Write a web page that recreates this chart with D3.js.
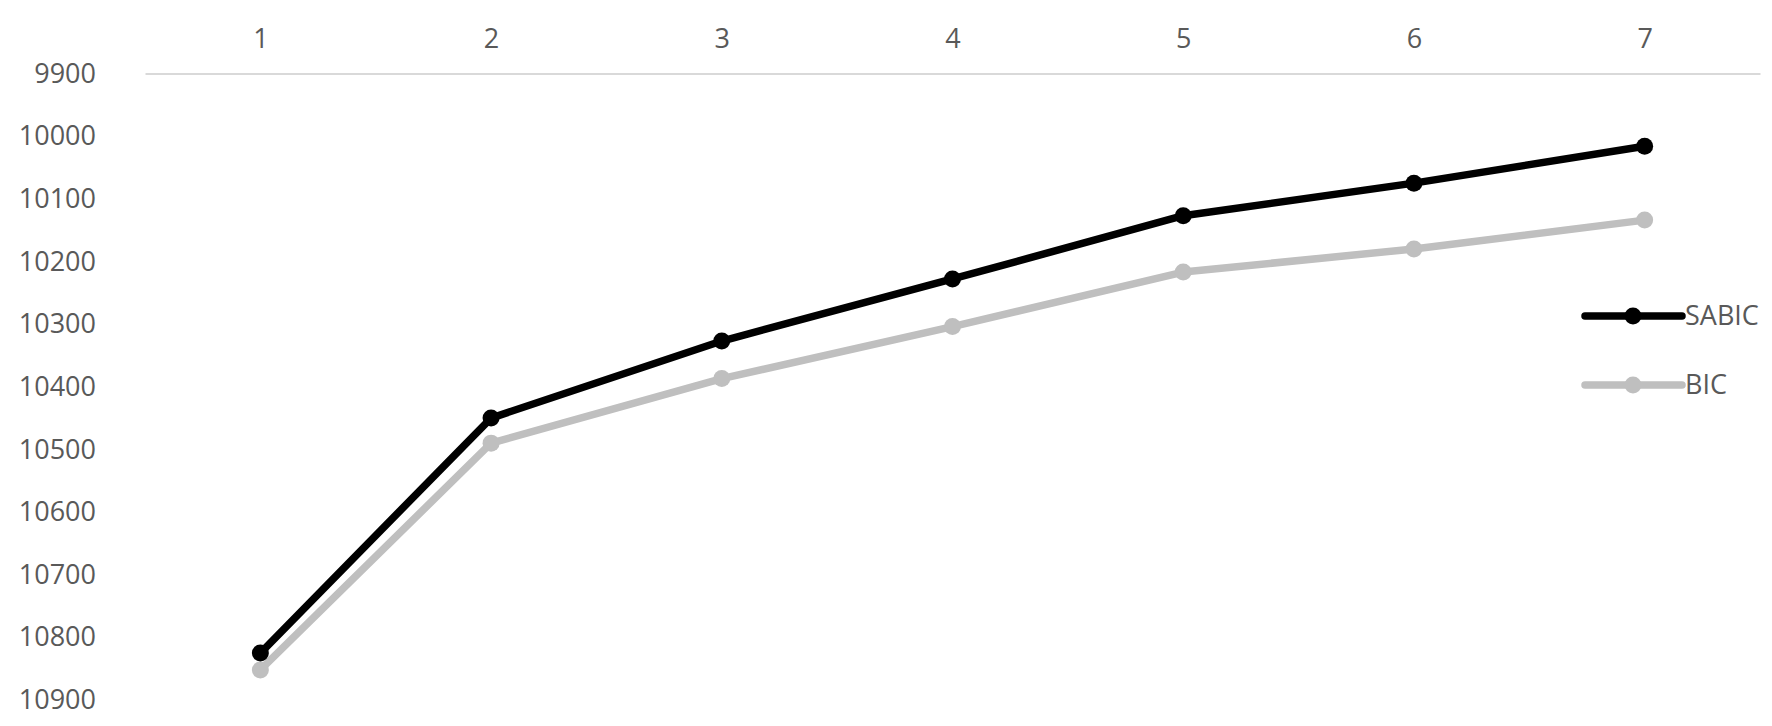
<!DOCTYPE html>
<html>
<head>
<meta charset="utf-8">
<script src="https://cdn.jsdelivr.net/npm/d3@7"></script>
<style>
  body { margin: 0; background: #fff; }
  text { font-family: "Open Sans", sans-serif; fill: #595959; }
</style>
</head>
<body>
<svg width="1772" height="726"></svg>
<script>
// categories (number of classes)
const classes = [1, 2, 3, 4, 5, 6, 7]
// values
const sabic = [10825, 10450, 10327, 10228, 10127, 10075, 10016]
const bic = [10852, 10490, 10387, 10304, 10217, 10180, 10134]
const yTicks = [9900, 10000, 10100, 10200, 10300, 10400, 10500, 10600, 10700, 10800, 10900]

const series = [
    { name: 'SABIC', values: sabic, color: '#000000' },
    { name: 'BIC', values: bic, color: '#bfbfbf' }
]

const svg = d3.select('svg')

const xScale = d3.scalePoint()
    .domain(classes)
    .range([145, 1760])
    .padding(0.5)

// reversed value axis: small numbers on top
const yScale = d3.scaleLinear()
    .domain([9900, 10900])
    .range([73.5, 700])

// category axis along the top
const xAxis = svg.append('g')
    .attr('transform', `translate(0, ${yScale(9900)})`)
    .call(d3.axisTop(xScale).tickSize(0).tickPadding(26))
xAxis.select('.domain').attr('stroke', '#d9d9d9').attr('stroke-width', 2)
xAxis.selectAll('text')
    .style('font-size', '27px')
    .style('font-family', '"Open Sans", sans-serif')
    .attr('fill', '#595959')

const yAxis = svg.append('g')
    .attr('transform', 'translate(96, 0)')
    .call(d3.axisLeft(yScale).tickValues(yTicks).tickSize(0).tickPadding(0).tickFormat(d3.format('d')))
yAxis.select('.domain').remove()
yAxis.selectAll('text')
    .style('font-size', '27px')
    .style('font-family', '"Open Sans", sans-serif')
    .attr('fill', '#595959')

const line = d3.line()
    .x((d, i) => xScale(classes[i]))
    .y(d => yScale(d))

// draw grey first so black sits on top
series.slice().reverse().forEach(s => {
    svg.append('path')
        .datum(s.values)
        .attr('fill', 'none')
        .attr('stroke', s.color)
        .attr('stroke-width', 7.5)
        .attr('stroke-linejoin', 'round')
        .attr('d', line)

    svg.selectAll(null)
        .data(s.values)
        .enter()
        .append('circle')
        .attr('cx', (d, i) => xScale(classes[i]))
        .attr('cy', d => yScale(d))
        .attr('r', 8.5)
        .attr('fill', s.color)
})

// legend
const legend = svg.selectAll('.legend')
    .data(series)
    .enter().append('g')
    .attr('class', 'legend')
    .attr('transform', (d, i) => `translate(1585, ${316 + i * 69})`)
legend.append('line')
    .attr('x1', 0).attr('x2', 97)
    .attr('stroke', d => d.color)
    .attr('stroke-width', 7.5)
    .attr('stroke-linecap', 'round')
legend.append('circle')
    .attr('cx', 48).attr('r', 8.5)
    .attr('fill', d => d.color)
legend.append('text')
    .attr('x', 100)
    .attr('dy', '0.35em')
    .style('font-size', '27px')
    .text(d => d.name)
</script>
</body>
</html>
